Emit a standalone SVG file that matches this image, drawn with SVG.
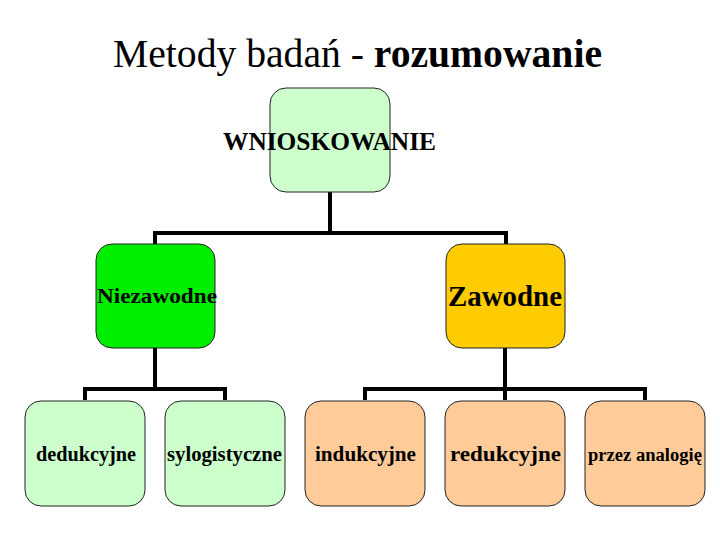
<svg xmlns="http://www.w3.org/2000/svg" width="720" height="540" viewBox="0 0 720 540">
<style>
.box{stroke:#222;stroke-width:1}
.lg{fill:#CCFFCC}
.gr{fill:#00EE00}
.yl{fill:#FFCC00}
.or{fill:#FFCC99}
.t{font-family:"Liberation Serif","Times New Roman",serif;font-weight:bold;fill:#000}
.c{stroke:#000;stroke-width:4;fill:none}
</style>
<rect width="720" height="540" fill="#fff"/>
<text x="113" y="67" font-family="Liberation Serif,'Times New Roman',serif" font-size="40" fill="#000" textLength="489" lengthAdjust="spacingAndGlyphs">Metody badań - <tspan font-weight="bold">rozumowanie</tspan></text>
<g id="connectors">
<path class="c" d="M330 192V233M155 244V233H506V244"/>
<path class="c" d="M155 348V389M85 400V389H225V400"/>
<path class="c" d="M505 348V389M365 400V389H645V400M505 389V400"/>
</g>
<g id="root">
<rect class="box lg" x="270" y="88" width="120" height="104" rx="16"/>
<text class="t" x="223" y="150" font-size="25" textLength="213" lengthAdjust="spacingAndGlyphs">WNIOSKOWANIE</text>
</g>
<g id="niezawodne">
<rect class="box gr" x="96" y="244" width="119" height="104" rx="16"/>
<text class="t" x="97" y="303" font-size="21" textLength="120" lengthAdjust="spacingAndGlyphs">Niezawodne</text>
</g>
<g id="zawodne">
<rect class="box yl" x="446" y="244" width="119" height="104" rx="16"/>
<text class="t" x="448" y="306" font-size="29" textLength="114" lengthAdjust="spacingAndGlyphs">Zawodne</text>
</g>
<g id="dedukcyjne">
<rect class="box lg" x="25" y="401" width="120" height="105" rx="16"/>
<text class="t" x="36" y="461" font-size="20" textLength="100" lengthAdjust="spacingAndGlyphs">dedukcyjne</text>
</g>
<g id="sylogistyczne">
<rect class="box lg" x="165" y="401" width="120" height="105" rx="16"/>
<text class="t" x="167" y="461" font-size="20" textLength="115" lengthAdjust="spacingAndGlyphs">sylogistyczne</text>
</g>
<g id="indukcyjne">
<rect class="box or" x="305" y="401" width="120" height="105" rx="16"/>
<text class="t" x="315" y="461" font-size="20" textLength="101" lengthAdjust="spacingAndGlyphs">indukcyjne</text>
</g>
<g id="redukcyjne">
<rect class="box or" x="445" y="401" width="120" height="105" rx="16"/>
<text class="t" x="450" y="461" font-size="21" textLength="111" lengthAdjust="spacingAndGlyphs">redukcyjne</text>
</g>
<g id="analogie">
<rect class="box or" x="585" y="401" width="120" height="105" rx="16"/>
<text class="t" x="588" y="461" font-size="18" textLength="114" lengthAdjust="spacingAndGlyphs">przez analogię</text>
</g>
</svg>
